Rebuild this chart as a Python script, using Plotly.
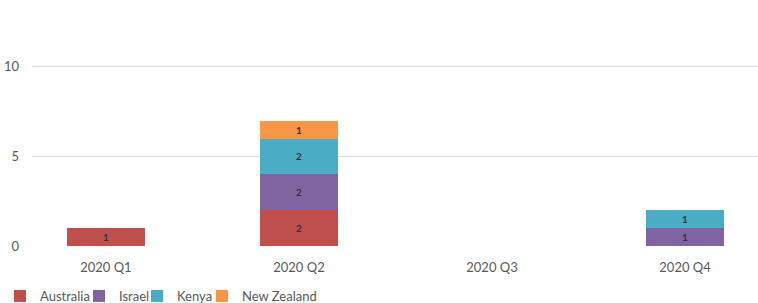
import plotly.graph_objects as go

categories = ["2020 Q1", "2020 Q2", "2020 Q3", "2020 Q4"]
australia = [1, 2, None, None]
israel = [None, 2, None, 1]
kenya = [None, 2, None, 1]
new_zealand = [None, 1, None, None]

series = [
    ("Australia", australia, "#c0504d"),
    ("Israel", israel, "#8064a2"),
    ("Kenya", kenya, "#4bacc6"),
    ("New Zealand", new_zealand, "#f79646"),
]

W, H = 758, 303
FONT = "Lato"
legend_names = ["legend", "legend2", "legend3", "legend4"]
legend_left_px = [0, 79, 137, 202]

fig = go.Figure()
for (name, vals, color), lg in zip(series, legend_names):
    fig.add_trace(go.Bar(
        x=categories, y=vals, name=name, legend=lg,
        marker=dict(color=color, line=dict(width=0)),
        text=[str(v) if v is not None else "" for v in vals],
        textposition="inside", insidetextanchor="middle",
        textfont=dict(size=10, color="#333333", family=FONT, weight="bold"),
        textangle=0, width=0.40,
    ))

legend_common = dict(orientation="h", xref="container", yref="container",
                     xanchor="left", yanchor="middle", y=1 - 296 / H,
                     font=dict(size=13, color="#595959", family=FONT), itemwidth=30,
                     bgcolor="rgba(0,0,0,0)")
legends = {}
for lg, px in zip(legend_names, legend_left_px):
    legends[lg] = dict(legend_common, x=px / W)

fig.update_layout(
    barmode="stack",
    width=W, height=H,
    margin=dict(l=32, r=0, t=31, b=57, autoexpand=False),
    paper_bgcolor="white", plot_bgcolor="white",
    font=dict(family=FONT, size=12, color="#595959"),
    uniformtext=dict(minsize=8, mode="show"),
    showlegend=True,
    xaxis=dict(range=[-0.383, 3.378], showgrid=False, zeroline=False,
               showline=False, ticks="", ticklabelstandoff=12,
               tickfont=dict(size=13, color="#595959", family=FONT)),
    yaxis=dict(range=[0, 12], tickvals=[0, 5, 10], showgrid=True,
               gridcolor="#d9d9d9", gridwidth=1, zeroline=False,
               showline=False, ticks="", ticklabelstandoff=12,
               tickfont=dict(size=13, color="#595959", family=FONT)),
    **legends,
)

fig.write_html("out.html", config={"displayModeBar": False},
               post_script="document.body.style.margin='0';document.body.style.overflow='hidden';")
